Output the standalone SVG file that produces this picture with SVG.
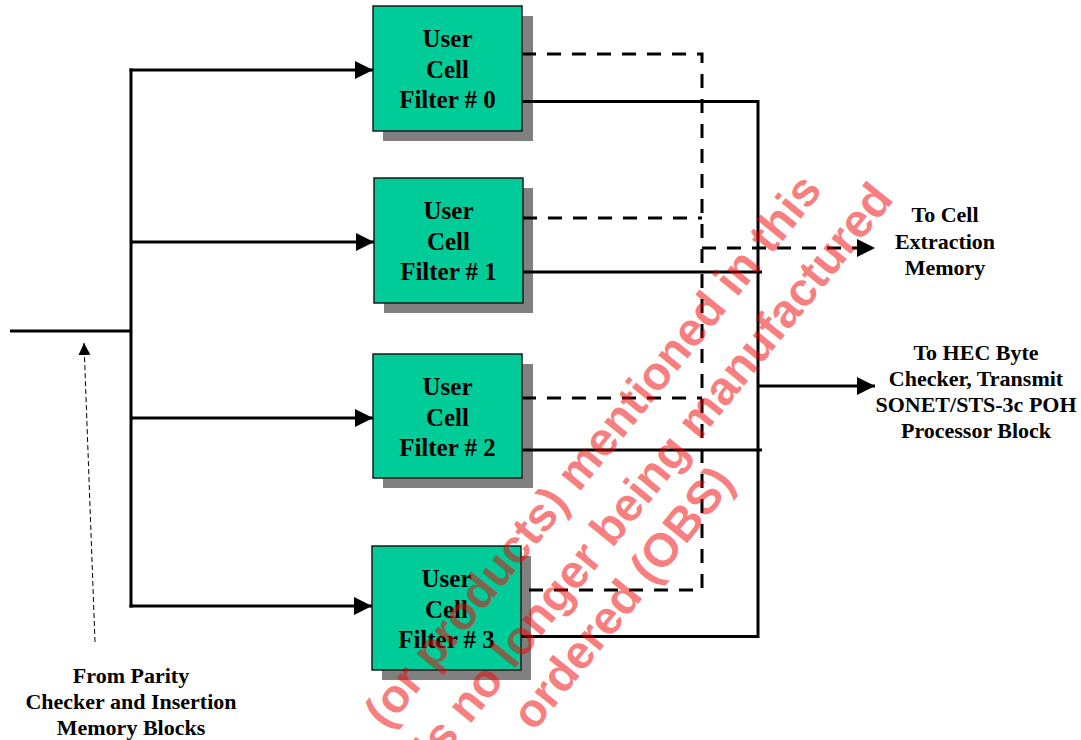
<svg xmlns="http://www.w3.org/2000/svg" width="1081" height="740" viewBox="0 0 1081 740">
<defs>
<style>
.box{fill:#00cc99;stroke:#1a1a1a;stroke-width:1.5}
.shadow{fill:#808080}
.bt{font-family:"Liberation Serif","Times New Roman",serif;font-weight:bold;font-size:25px;text-anchor:middle;fill:#000}
.lt{font-family:"Liberation Serif","Times New Roman",serif;font-weight:bold;font-size:22px;text-anchor:middle;fill:#000}
.s{fill:none;stroke:#000;stroke-width:3}
.d{fill:none;stroke:#000;stroke-width:3;stroke-dasharray:14 11}
.wm{font-family:"Liberation Sans",Arial,sans-serif;font-weight:bold;font-size:47px;fill:#f20000;fill-opacity:0.52;text-anchor:end}
</style>
<marker id="ah" markerUnits="userSpaceOnUse" markerWidth="20" markerHeight="20" viewBox="0 0 20 20" refX="18" refY="10" orient="auto">
<path d="M0,1 L18,10 L0,19 Z" fill="#000"/>
</marker>
<marker id="ahs" markerUnits="userSpaceOnUse" markerWidth="12" markerHeight="14" viewBox="0 0 12 14" refX="12" refY="6" orient="auto">
<path d="M0,0 L12,6 L0,12 Z" fill="#000"/>
</marker>
</defs>
<rect width="1081" height="740" fill="#fff"/>

<g id="filter0">
<rect class="shadow" x="383" y="16" width="150" height="125"/>
<rect class="box" x="373" y="6" width="149" height="125"/>
<text class="bt" x="447.5" y="47">User</text>
<text class="bt" x="447.5" y="78">Cell</text>
<text class="bt" x="447.5" y="108">Filter # 0</text>
</g>
<g id="filter1">
<rect class="shadow" x="384" y="188" width="149" height="125"/>
<rect class="box" x="374" y="178" width="149" height="125"/>
<text class="bt" x="448.5" y="219">User</text>
<text class="bt" x="448.5" y="250">Cell</text>
<text class="bt" x="448.5" y="280">Filter # 1</text>
</g>
<g id="filter2">
<rect class="shadow" x="383" y="364" width="150" height="124"/>
<rect class="box" x="373" y="354" width="149" height="124"/>
<text class="bt" x="447.5" y="395">User</text>
<text class="bt" x="447.5" y="426">Cell</text>
<text class="bt" x="447.5" y="456">Filter # 2</text>
</g>
<g id="filter3">
<rect class="shadow" x="382" y="556" width="149" height="124"/>
<rect class="box" x="372" y="546" width="149" height="124"/>
<text class="bt" x="446.5" y="587">User</text>
<text class="bt" x="446.5" y="618">Cell</text>
<text class="bt" x="446.5" y="648">Filter # 3</text>
</g>

<g id="connectors">
<path class="s" d="M10,331 H131"/>
<path class="s" d="M131,68.5 V607.5"/>
<path class="s" d="M129.5,70 H373" marker-end="url(#ah)"/>
<path class="s" d="M131,242 H374" marker-end="url(#ah)"/>
<path class="s" d="M131,418 H373" marker-end="url(#ah)"/>
<path class="s" d="M129.5,606 H372" marker-end="url(#ah)"/>
<path d="M95,642 L84,343" fill="none" stroke="#000" stroke-width="1" stroke-dasharray="5 3" marker-end="url(#ahs)"/>

<path class="d" d="M522,54 H702 V590 H521"/>
<path class="d" d="M523,218 H702"/>
<path class="d" d="M522,398 H702"/>
<path class="d" d="M702,248 H875" marker-end="url(#ah)"/>

<path class="s" d="M522,101.5 H758 V636.5 H521"/>
<path class="s" d="M523,272 H762"/>
<path class="s" d="M522,450 H762"/>
<path class="s" d="M758,386 H875" marker-end="url(#ah)"/>
</g>

<g id="label-from">
<text class="lt" x="131" y="683">From Parity</text>
<text class="lt" x="131" y="709">Checker and Insertion</text>
<text class="lt" x="131" y="735">Memory Blocks</text>
</g>
<g id="label-cell">
<text class="lt" x="945" y="222">To Cell</text>
<text class="lt" x="945" y="249">Extraction</text>
<text class="lt" x="945" y="275">Memory</text>
</g>
<g id="label-hec">
<text class="lt" x="976" y="360">To HEC Byte</text>
<text class="lt" x="976" y="386">Checker, Transmit</text>
<text class="lt" x="976" y="412">SONET/STS-3c POH</text>
<text class="lt" x="976" y="438">Processor Block</text>
</g>

<g id="watermark" transform="rotate(-51)">
<text class="wm" x="370" y="760">(or products) mentioned in this</text>
<text class="wm" x="408" y="821">is no longer being manufactured</text>
<text class="wm" x="88" y="876">ordered (OBS)</text>
</g>
</svg>
